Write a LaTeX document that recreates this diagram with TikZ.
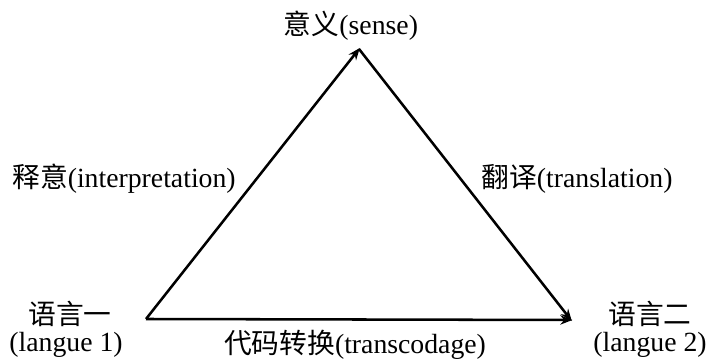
\documentclass[tikz,border=0pt]{standalone}
\usepackage{fontspec}
\setmainfont{Liberation Serif}
\newfontfamily\cjk{Noto Sans CJK SC}
\usetikzlibrary{arrows.meta}
\begin{document}
\begin{tikzpicture}[x=0.75pt,y=-0.75pt,
  lbl/.style={inner sep=0pt,font=\fontsize{20.8}{23}\selectfont},
  edge/.style={line width=1.9pt,-{Stealth[length=9pt,width=7pt]},shorten >=-1pt}]
\useasboundingbox (0,0) rectangle (707,359);
\coordinate (A) at (146,319);
\coordinate (B) at (359,49);
\coordinate (C) at (571,320);
\draw[edge] (A) -- (B);
\draw[edge] (B) -- (C);
\draw[edge] (A) -- (C);
\node[lbl] (sense) at (351,26) {{\cjk 意义}(sense)};
\node[lbl] (interp) at (124,179) {{\cjk 释意}(interpretation)};
\node[lbl] (transl) at (577,179) {{\cjk 翻译}(translation)};
\node[lbl] (l1) at (70,314) {\cjk 语言一};
\node[lbl] (l1b) at (66,345) {(langue 1)};
\node[lbl] (l2) at (650,314) {\cjk 语言二};
\node[lbl] (l2b) at (650,345) {(langue 2)};
\node[lbl] (tc) at (355,345) {{\cjk 代码转换}(transcodage)};
\end{tikzpicture}
\end{document}
